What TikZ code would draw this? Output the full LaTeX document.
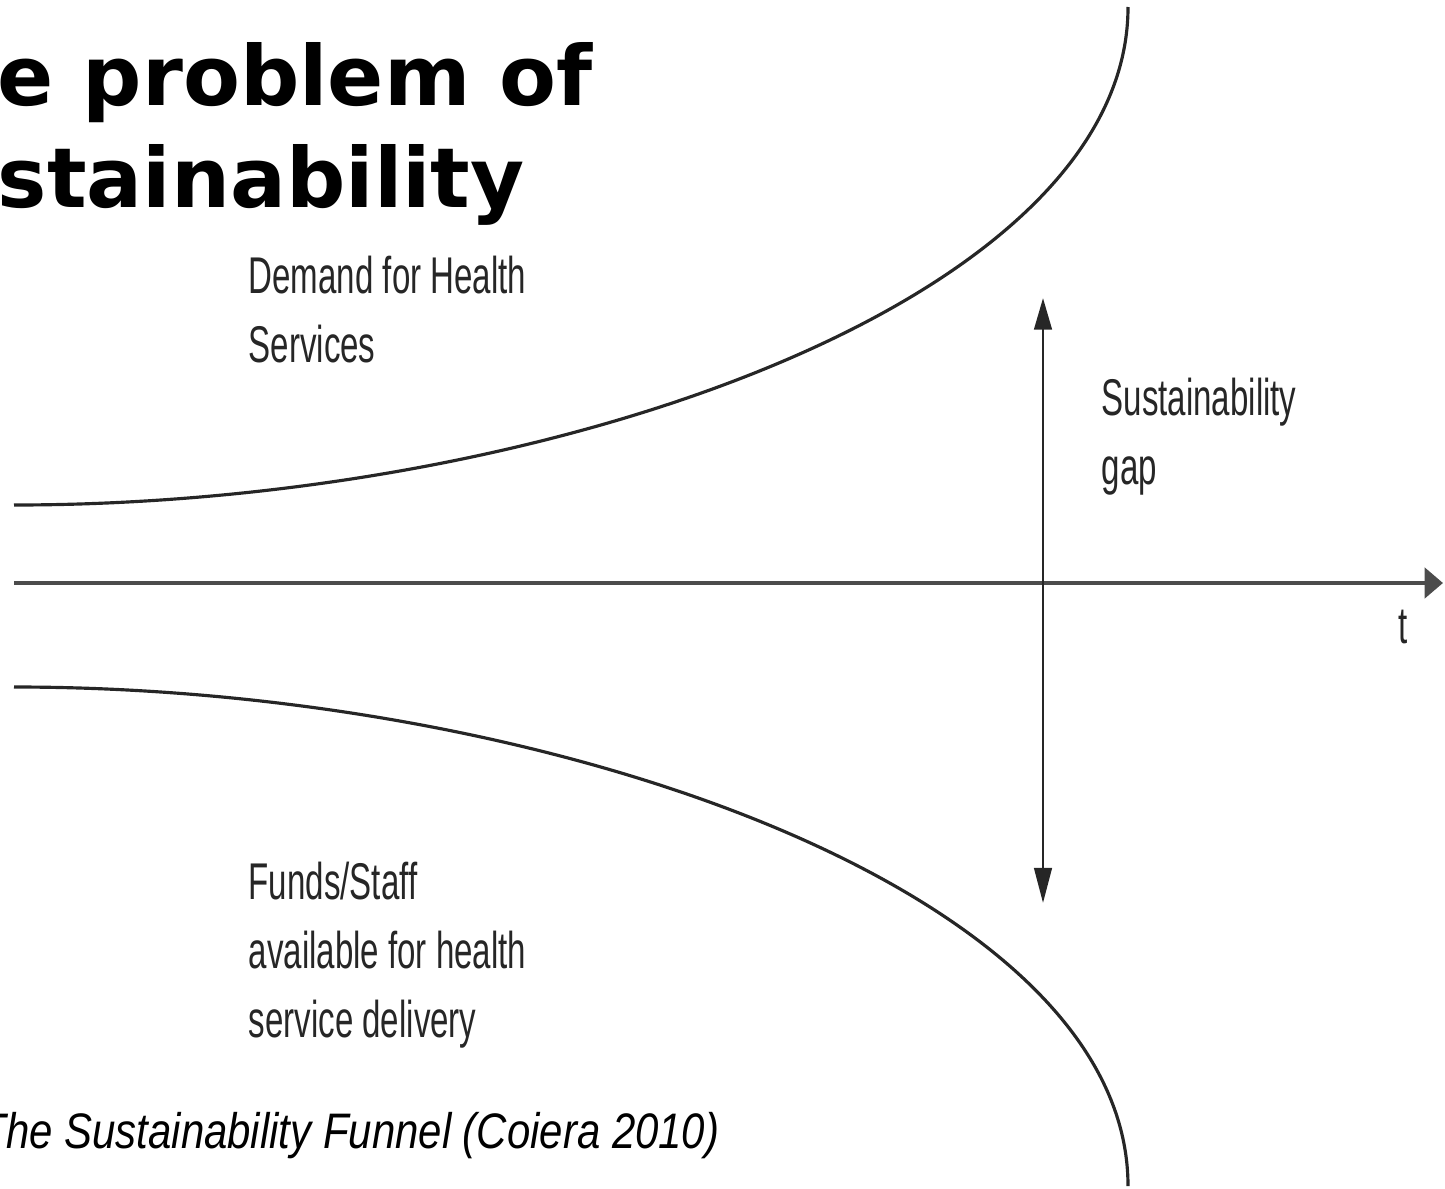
\documentclass[tikz,border=0pt]{standalone}
\usepackage{fontspec}
\setmainfont{Liberation Sans}
\newfontfamily\funnelfont[FakeStretch=0.64]{Liberation Sans}
\newfontfamily\capfont[FakeStretch=0.84]{Liberation Sans}
\newfontfamily\titlefont{DejaVu Sans}
\usetikzlibrary{arrows.meta}

\begin{document}
\begin{tikzpicture}[x=0.1mm,y=-0.1mm] % 1 unit = 1 px

\tikzstyle{curve}=[line width=0.9pt,draw=black!85];
\tikzstyle{axis}=[line width=1.3pt,draw=black!70,-{Triangle[length=5.2pt,width=8.5pt]}];
\tikzstyle{gaparrow}=[line width=0.8pt,draw=black!85,{Triangle[length=9pt,width=5pt]}-{Triangle[length=10pt,width=5pt]}];
\tikzstyle{funneltext}=[anchor=base west,inner sep=0,align=left,text=black!85,font=\funnelfont\fontsize{14.7pt}{19.5pt}\selectfont];
\tikzstyle{titletext}=[anchor=base west,inner sep=0,align=left,font=\titlefont\bfseries\fontsize{23.6pt}{29pt}\selectfont];

\useasboundingbox (0,0) rectangle (1445,1188);
\clip (0,0) rectangle (1445,1188);

\coordinate (axstart) at (14,583);
\coordinate (axend) at (1443,583);
\coordinate (gaptop) at (1043,298);
\coordinate (gapbot) at (1043,903);
\coordinate (demstart) at (14,505);
\coordinate (demend) at (1128,7);
\coordinate (fundstart) at (14,687);
\coordinate (fundend) at (1128,1186);

\draw[curve] (demstart) .. controls (550,505) and (1128,300) .. (demend);
\draw[curve] (fundstart) .. controls (550,687) and (1128,892) .. (fundend);
\draw[axis] (axstart) -- (axend);
\draw[gaparrow] (gaptop) -- (gapbot);

% base = baseline of the last line
\node[titletext] (title) at (-3,207) {e problem of\\stainability};
\node[funneltext] (demand) at (248,362) {Demand for Health\\Services};
\node[funneltext] (gap) at (1101,484) {Sustainability\\gap};
\node[funneltext] (funds) at (248,1037) {Funds/Staff\\available for health\\service delivery};
\node[funneltext] (time) at (1398,643) {t};
\node[anchor=base west,inner sep=0,text=black,font=\capfont\itshape\fontsize{14.2pt}{17pt}\selectfont] (caption) at (-20,1148) {The Sustainability Funnel (Coiera 2010)};
\end{tikzpicture}
\end{document}
